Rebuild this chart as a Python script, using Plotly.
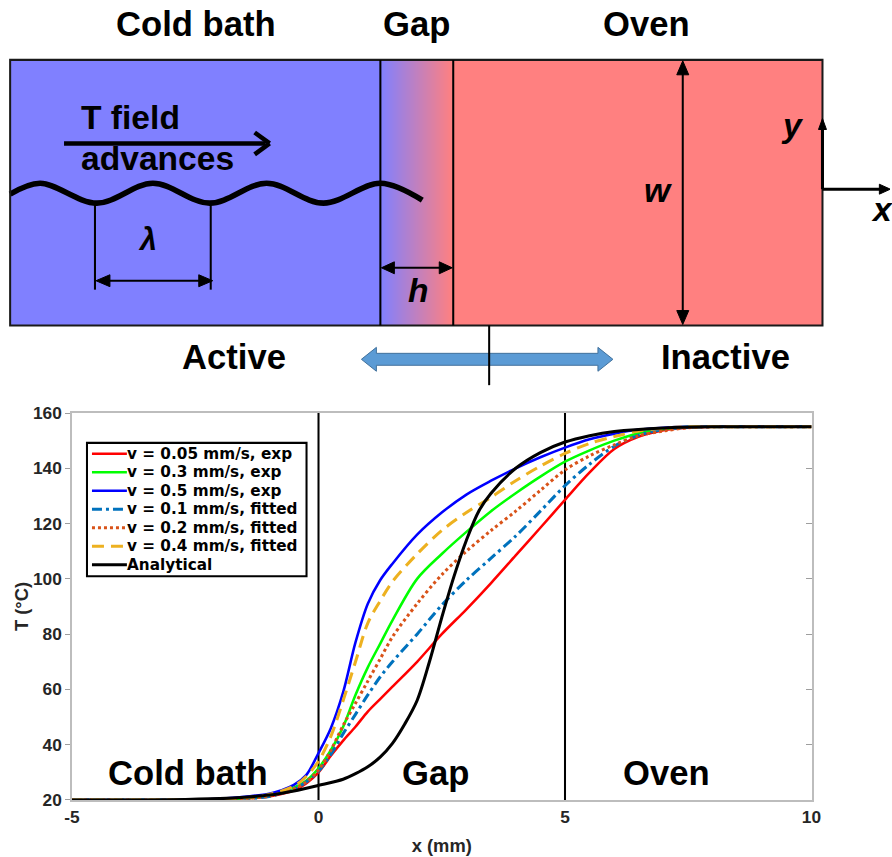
import plotly.graph_objects as go

# The viewer shows the page with an 8px body margin and a 0.982 overall scale,
# so the figure is sized and positioned to land on the reference pixels.
S, O = 0.982, 7.86
W, H = 900, 865
FONT = "Liberation Sans"
K = 1 / S  # font compensation

# ---------------- data ----------------
x_grid = [-5, -3, -2.5, -2, -1.5, -1, -0.5, -0.25, 0, 0.25, 0.5, 0.75, 1, 1.25, 1.5,
          2, 2.5, 3, 3.5, 4, 4.5, 5, 5.5, 6, 6.5, 7, 7.5, 8, 9, 10]

T_v005_exp = [20, 20, 20, 20.1, 20.5, 21.3, 23.5, 26, 30, 36, 41.5, 46.5, 52, 56.5, 61,
              70, 80, 89, 98.5, 108.5, 118.5, 128.6, 138.5, 147, 151.5, 153.8, 154.7, 155, 155, 155]
T_v03_exp = [20, 20, 20.1, 20.2, 20.6, 21.6, 24.5, 27, 31.5, 38, 46.5, 58, 68, 76.5, 85,
             100, 109, 117, 124.5, 131, 137, 142.4, 146.5, 150, 152.7, 154.2, 155, 155, 155, 155]
T_v05_exp = [20, 20, 20.1, 20.5, 21.2, 22.3, 25.5, 29, 37, 46, 59, 77, 91, 99.5, 105.5,
             116, 124, 130.5, 135.5, 140, 144, 147.5, 150.5, 152.5, 154, 154.7, 155, 155, 155, 155]
T_v01_fit = [20, 20, 20.05, 20.2, 20.5, 21.3, 24, 26.5, 30.4, 36.5, 44, 51, 58, 64.5, 70,
             80, 90.5, 99.5, 107.5, 115.5, 124.5, 133.7, 141.5, 148, 152, 154, 154.8, 155, 155, 155]
T_v02_fit = [20, 20, 20.05, 20.2, 20.5, 21.5, 24, 26.5, 30.8, 38, 47, 55, 63, 71, 79,
             91, 101.5, 110, 117.5, 124.5, 132, 139.4, 144.5, 148.5, 151.8, 153.5, 154.7, 155, 155, 155]
T_v04_fit = [20, 20, 20.1, 20.3, 20.8, 22, 25, 28.5, 34, 43, 56, 70, 84, 92, 99,
             109, 117.5, 124, 129.5, 135.5, 140.8, 145.4, 149, 151.5, 153.5, 154.5, 155, 155, 155, 155]

x_analytical = [-5, -3, -2, -1.5, -1, -0.5, 0, 0.5, 0.75, 1, 1.25, 1.5, 1.75, 2, 2.25, 2.5,
                2.75, 3, 3.25, 3.5, 4, 4.5, 5, 5.5, 6, 7, 8, 10]
T_analytical = [20, 20.1, 20.5, 21, 21.8, 23.3, 25.3, 27.5, 29.5, 32, 35.5, 40.5, 47.5, 56, 70, 86,
                101, 114, 124.5, 131, 140, 145.7, 149.5, 151.8, 153.3, 154.6, 155, 155]

series_names = ["v = 0.05 mm/s, exp", "v = 0.3 mm/s, exp", "v = 0.5 mm/s, exp",
                "v = 0.1 mm/s, fitted", "v = 0.2 mm/s, fitted", "v = 0.4 mm/s, fitted",
                "Analytical"]
series_values = [T_v005_exp, T_v03_exp, T_v05_exp, T_v01_fit, T_v02_fit, T_v04_fit]
series_colors = ["#FF0000", "#00FF00", "#0000FF", "#0072BD", "#D95319", "#EDB120", "#000000"]
series_dash = ["solid", "solid", "solid", "10px,4px,3px,4px", "3px,3px", "12px,7px", "solid"]
series_width = [2.5, 2.5, 2.5, 3, 3, 3, 3]

x_ticks = [-5, 0, 5, 10]
x_ticktext = ["-5", "0", "5", "10"]
zone_labels = ["Cold bath", "Gap", "Oven"]
zone_label_x = [-2.65, 2.37, 7.05]
zone_boundaries = [0, 5]

fig = go.Figure()

# ---------------- schematic (reference-pixel coordinates on hidden x2/y2) ----------------
gap_edges = [381 + i for i in range(74)]
fig.add_trace(go.Heatmap(x=gap_edges, y=[58, 325], z=[list(range(73))],
                         colorscale=[[0, "#8080FF"], [1, "#FF8080"]], showscale=False,
                         xaxis="x2", yaxis="y2", hoverinfo="skip"))
wave_x = [10, 40, 97, 153, 210, 267, 324, 381, 423]
wave_y = [193, 182, 202, 182, 202, 182, 202, 182, 199]
fig.add_trace(go.Scatter(x=wave_x, y=wave_y, mode="lines", xaxis="x2", yaxis="y2",
                         line=dict(color="black", width=5.5 * K, shape="spline"),
                         showlegend=False, hoverinfo="skip"))

# ---------------- chart traces ----------------
for i in range(6):
    fig.add_trace(go.Scatter(x=x_grid, y=series_values[i], mode="lines", name=series_names[i],
                             showlegend=False,
                             line=dict(color=series_colors[i], width=series_width[i] * K,
                                       dash=series_dash[i], shape="spline", smoothing=0.9)))
fig.add_trace(go.Scatter(x=x_analytical, y=T_analytical, mode="lines", name=series_names[6],
                         showlegend=False,
                         line=dict(color="black", width=3 * K, shape="spline", smoothing=0.9)))
fig.add_trace(go.Scatter(x=[-10], y=[0], yaxis="y3", mode="markers", marker=dict(opacity=0),
                         showlegend=False, hoverinfo="skip"))

shapes = []


def line(x0, y0, x1, y1, w=2, color="black", layer="above", dash="solid"):
    shapes.append(dict(type="line", xref="x2", yref="y2", x0=x0, y0=y0, x1=x1, y1=y1,
                       line=dict(color=color, width=w * K, dash=dash), layer=layer))


def tri(tx, ty, dx, dy, L, Wd, color="black"):
    bx, by = tx - L * dx, ty - L * dy
    px, py = -dy, dx
    p = f"M{tx},{ty} L{bx + Wd * px},{by + Wd * py} L{bx - Wd * px},{by - Wd * py} Z"
    shapes.append(dict(type="path", xref="x2", yref="y2", path=p, fillcolor=color,
                       line=dict(color=color, width=1), layer="above"))


# blocks
shapes.append(dict(type="rect", xref="x2", yref="y2", x0=10, y0=58, x1=381, y1=325,
                   fillcolor="#8080FF", line=dict(width=0), layer="below"))
shapes.append(dict(type="rect", xref="x2", yref="y2", x0=454, y0=58, x1=824, y1=325,
                   fillcolor="#FF8080", line=dict(width=0), layer="below"))
shapes.append(dict(type="rect", xref="x2", yref="y2", x0=10, y0=58, x1=824, y1=325,
                   line=dict(color="#1a1a1a", width=2 * K), layer="above"))
line(381, 58, 381, 325)
line(454, 58, 454, 325)

# T field arrow
line(64, 142, 266, 142, w=4.5)
line(270, 142, 255, 131, w=4.5)
line(270, 142, 255, 153, w=4.5)

# lambda
line(95, 202, 95, 289)
line(211, 202, 211, 289)
line(105, 280, 203, 280)
tri(96, 280, -1, 0, 14, 6)
tri(213, 280, 1, 0, 14, 6)

# h
line(390, 267, 446, 267)
tri(382, 267, -1, 0, 13, 6)
tri(453, 267, 1, 0, 13, 6)

# w
line(684, 70, 684, 313)
tri(684, 59, 0, -1, 14, 6)
tri(684, 324, 0, 1, 14, 6)

# coordinate axes
line(824, 188, 824, 124, w=3)
tri(824, 117, 0, -1, 11, 4)
line(824, 188, 884, 188, w=3)
tri(892, 188, 1, 0, 11, 5)

# Active / Inactive block arrow
arrow_path = ("M362,359 L377,347 L377,353 L599,353 L599,347 L614,359 L599,371 "
              "L599,365 L377,365 L377,371 Z")
shapes.append(dict(type="path", xref="x2", yref="y2", path=arrow_path, fillcolor="#5B9BD5",
                   line=dict(color="#41719C", width=1), layer="above"))
line(490, 325, 490, 385)

# chart zone boundaries
for xb in zone_boundaries:
    shapes.append(dict(type="line", xref="x", yref="y", x0=xb, x1=xb, y0=20, y1=160,
                       line=dict(color="black", width=2 * K), layer="below"))

annotations = []


def text(t, x, y, size=34, xanchor="center", ref="2", family=FONT):
    annotations.append(dict(text=t, x=x, y=y, xref="x" + ref, yref="y" + ref,
                            showarrow=False, xanchor=xanchor, yanchor="middle",
                            font=dict(family=family, size=size * K, color="black")))


# ---------------- legend (box, samples, labels) ----------------
shapes.append(dict(type="rect", xref="x2", yref="y2", x0=87, y0=443, x1=307, y1=577,
                   fillcolor="white", line=dict(color="black", width=2 * K), layer="above"))
for i, name in enumerate(series_names):
    ry = 454 + i * 18.6
    line(92, ry, 127, ry, w=series_width[i], color=series_colors[i], dash=series_dash[i])
    text(f"<b>{name}</b>", 125, ry, size=15, xanchor="left", family="DejaVu Sans")

text("<b>Cold bath</b>", 196, 22)
text("<b>Gap</b>", 417, 22)
text("<b>Oven</b>", 648, 22)
text("<b>T field</b>", 79, 116, size=33, xanchor="left")
text("<b>advances</b>", 79, 157, size=33, xanchor="left")
text("<b><i>λ</i></b>", 148, 238, size=30)
text("<b><i>h</i></b>", 419, 290, size=33)
text("<b><i>w</i></b>", 659, 189, size=33)
text("<b><i>y</i></b>", 794, 124, size=33)
text("<b><i>x</i></b>", 884, 208, size=33)
text("<b>Active</b>", 234, 357)
text("<b>Inactive</b>", 727, 357)
for lbl, xl in zip(zone_labels, zone_label_x):
    text(f"<b>{lbl}</b>", xl, 29.7, size=34, ref="")

fig.update_layout(shapes=shapes, annotations=annotations)

tickfont = dict(family=FONT, size=17 * K, color="#262626", weight="bold")
titlefont = dict(family=FONT, size=18 * K, color="#262626", weight="bold")


def fx(p):
    return (p - O) / S / W


def fy(p):
    return 1 - (p - O) / S / H


fig.update_layout(
    width=W, height=H, margin=dict(l=0, r=0, t=0, b=0),
    paper_bgcolor="white", plot_bgcolor="rgba(0,0,0,0)",
    showlegend=False,
    xaxis=dict(domain=[fx(72), fx(813)], range=[-5, 10], tickvals=x_ticks, ticktext=x_ticktext,
               showgrid=False, zeroline=False, showline=True, linecolor="#BDBDBD",
               linewidth=1.5, mirror=True, ticks="", tickfont=tickfont,
               title=dict(text="x (mm)", font=titlefont, standoff=14), anchor="y"),
    yaxis=dict(domain=[fy(802), fy(413)], range=[20, 160], tick0=20, dtick=20,
               showgrid=False, zeroline=False, showline=True, linecolor="#BDBDBD",
               linewidth=1.5, mirror=True, ticks="outside", ticklen=5, tickcolor="#9E9E9E",
               tickfont=tickfont, title=dict(text="T (°C)", font=titlefont, standoff=0),
               anchor="x"),
    yaxis3=dict(overlaying="y", side="right", anchor="x", range=[20, 160], tick0=20, dtick=20,
                ticks="inside", ticklen=6, tickcolor="#9E9E9E", showticklabels=False,
                showgrid=False, zeroline=False, showline=False),
    xaxis2=dict(domain=[0, 1], range=[O, O + S * W], visible=False, anchor="y2", fixedrange=True),
    yaxis2=dict(domain=[0, 1], range=[O + S * H, O], visible=False, anchor="x2", fixedrange=True),
)

fig.write_html("out.html", config={"displayModeBar": False})
